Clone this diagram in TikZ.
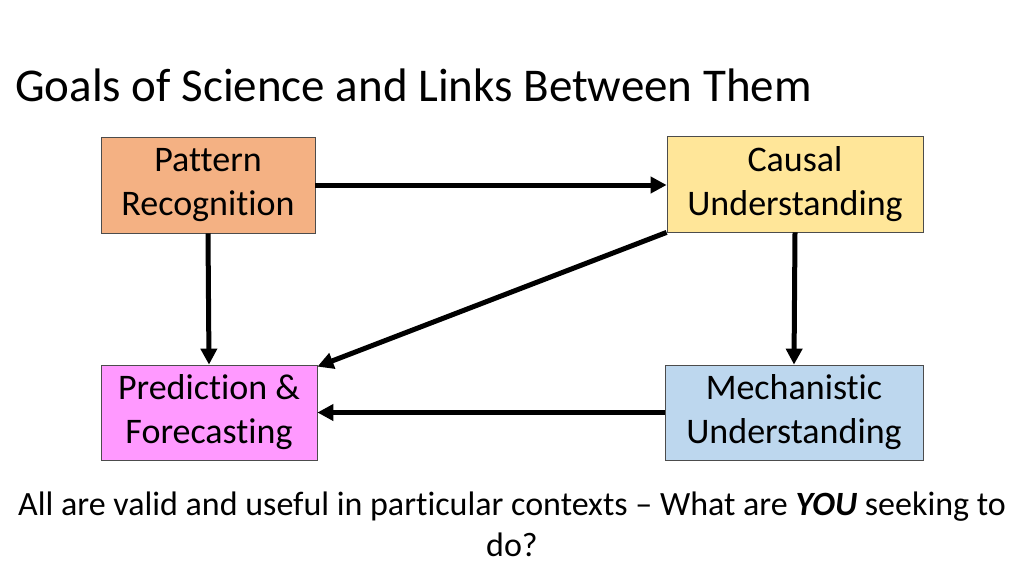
\documentclass[tikz,border=0pt]{standalone}
\usepackage{fontspec}
\setmainfont{Carlito}[Ligatures=NoCommon]
\usetikzlibrary{arrows.meta}
\definecolor{patfill}{HTML}{F4B183}
\definecolor{caufill}{HTML}{FFE699}
\definecolor{prefill}{HTML}{FF99FF}
\definecolor{mecfill}{HTML}{BDD7EE}
\tikzset{
  goalbox/.style={draw=black!70, line width=0.8pt, align=center, inner sep=0pt,
    font=\fontsize{36}{44}\selectfont},
  link/.style={line width=5pt, -{Triangle[length=16pt,width=16pt]}}
}
\begin{document}
\begin{tikzpicture}[x=1pt,y=-1pt]
    \useasboundingbox (0,0) rectangle (1024,576);
    \node[anchor=base west, inner sep=0pt, font=\fontsize{47}{54}\selectfont] (title) at (15,101) {Goals of Science and Links Between Them};
    % the four goals
    \node[goalbox, fill=patfill, minimum width=214pt, minimum height=96pt] (pattern) at (208,185) {Pattern\\Recognition};
    \node[goalbox, fill=caufill, minimum width=256pt, minimum height=96pt] (causal) at (795,184) {Causal\\Understanding};
    \node[goalbox, fill=prefill, minimum width=216pt, minimum height=95pt] (predict) at (209,412.5) {Prediction \&\\Forecasting};
    \node[goalbox, fill=mecfill, minimum width=258pt, minimum height=95pt] (mech) at (794,412.5) {Mechanistic\\Understanding};
    % links between them
    \draw[link] (pattern.east |- 0,185) -- (causal.west |- 0,185);
    \draw[link] (pattern.south) -- (predict.north);
    \draw[link] (causal.south) -- (mech.north);
    \draw[link] (mech.west) -- (predict.east);
    \draw[link] (causal.south west) -- ([yshift=-2pt]predict.north east);
    \node[align=center, font=\fontsize{34}{41}\selectfont] (note) at (512,524) {All are valid and useful in particular contexts -- What are \textbf{\textit{YOU}} seeking to\\do?};
\end{tikzpicture}
\end{document}
